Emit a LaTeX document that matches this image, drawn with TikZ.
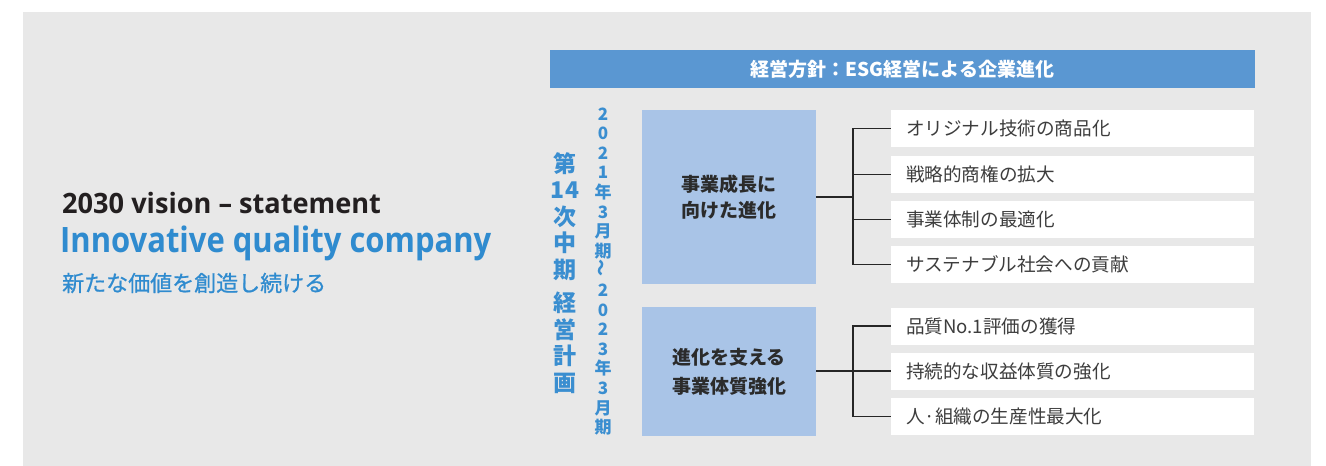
\documentclass[tikz,border=0pt]{standalone}
\usepackage{fontspec}
\newfontfamily\os{Open Sans}[FakeStretch=0.885]
\newfontfamily\osa{Open Sans}[FakeStretch=0.97]
\newfontfamily\jp{Noto Sans CJK JP}
\newfontfamily\jpm{Noto Sans CJK JP}[FakeBold=0.8]
\definecolor{bgc}{HTML}{E8E8E8}
\definecolor{barblue}{HTML}{5A97D2}
\definecolor{boxblue}{HTML}{A9C4E7}
\definecolor{tblue}{HTML}{2F8BCF}
\definecolor{vblue}{HTML}{3A8ED0}
\definecolor{itemtext}{HTML}{3D3D3D}
\definecolor{boxtext}{HTML}{2B2B2B}
\definecolor{dark}{HTML}{231F20}
\tikzset{
  hdr/.style={fill=barblue, text=white, inner sep=0pt, minimum width=705pt, minimum height=38pt, font=\jp\bfseries\fontsize{19}{22}\selectfont},
  bigbox/.style={fill=boxblue, text=boxtext, inner sep=0pt, minimum width=174pt, align=center},
  item/.style={fill=white, text=itemtext, inner xsep=15pt, inner ysep=0pt, minimum height=37pt, text width=333pt, align=left, font=\jp\fontsize{18.6}{20}\selectfont},
  conn/.style={draw=black!85, line width=1.1pt},
  vt/.style={text=vblue, inner sep=0pt, align=center}
}
\begin{document}
\begin{tikzpicture}[x=1pt,y=-1pt]
\fill[white] (0,0) rectangle (1326,466);
\useasboundingbox (0,0) rectangle (1326,466);
\fill[bgc] (23,12) rectangle (1311,466);
% left statement
\node[anchor=base west, inner sep=0pt, text=dark, font=\osa\bfseries\fontsize{28}{30}\selectfont] (l1) at (62,213) {2030 vision – statement};
\node[anchor=base west, inner sep=0pt, text=tblue, font=\os\bfseries\fontsize{35}{38}\selectfont] (l2) at (60,252) {Innovative quality company};
\node[anchor=west, inner sep=0pt, text=tblue, font=\jpm\fontsize{22}{24}\selectfont] (l3) at (62,283) {新たな価値を創造し続ける};
% header
\node[hdr] (hdr) at (902.5,69) {経営方針：ESG経営による企業進化};
% vertical texts
\node[vt, font=\jp\bfseries\fontsize{23}{26.5}\selectfont] (plan) at (565,273) {第\\14\\次\\中\\期\\[7pt]経\\営\\計\\画};
\node[vt, font=\jp\bfseries\fontsize{17}{19.6}\selectfont] (period) at (603,271.5) {2\\0\\2\\1\\年\\3\\月\\期\\\rotatebox{90}{～}\\2\\0\\2\\3\\年\\3\\月\\期};
% boxes
\node[bigbox, minimum height=174pt, font=\jp\bfseries\fontsize{19}{26}\selectfont] (b1) at (729,197) {事業成長に\\向けた進化};
\node[bigbox, minimum height=129pt, font=\jp\bfseries\fontsize{19}{29}\selectfont] (b2) at (729,371.5) {進化を支える\\事業体質強化};
% items
\node[item] (i1) at (1072.5,128.5) {オリジナル技術の商品化};
\node[item] (i2) at (1072.5,174.5) {戦略的商権の拡大};
\node[item] (i3) at (1072.5,219.5) {事業体制の最適化};
\node[item] (i4) at (1072.5,264.5) {サステナブル社会への貢献};
\node[item] (i5) at (1072.5,326) {品質No.1評価の獲得};
\node[item] (i6) at (1072.5,371) {持続的な収益体質の強化};
\node[item] (i7) at (1072.5,416.5) {人·組織の生産性最大化};
% connectors
\coordinate (t1) at (853,197);
\coordinate (t2) at (853,371);
\draw[conn] (b1.east) -- (t1);
\foreach \i in {i1,i2,i3,i4} \draw[conn] (\i.west) -| (t1);
\draw[conn] (b2.east |- t2) -- (t2);
\foreach \i in {i5,i6,i7} \draw[conn] (\i.west) -| (t2);
\end{tikzpicture}
\end{document}
